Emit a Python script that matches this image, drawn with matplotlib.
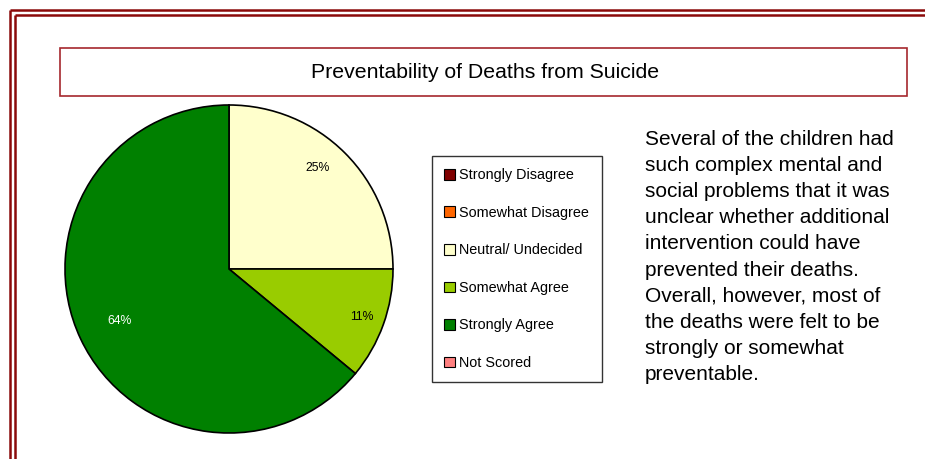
import numpy as np
import matplotlib
matplotlib.use("Agg")
import matplotlib.pyplot as plt
from matplotlib.patches import Patch, Rectangle
from matplotlib.lines import Line2D

plt.rcParams["font.family"] = ["Liberation Sans", "DejaVu Sans"]

# Data
categories = ["Strongly Disagree", "Somewhat Disagree", "Neutral/ Undecided",
              "Somewhat Agree", "Strongly Agree", "Not Scored"]
shares = [0, 0, 25, 11, 64, 0]
colors = ["#800000", "#FF6600", "#FFFFCC", "#99CC00", "#008000", "#FF8080"]
title = "Preventability of Deaths from Suicide"
note_lines = ["Several of the children had", "such complex mental and",
              "social problems that it was", "unclear whether additional",
              "intervention could have", "prevented their deaths.",
              "Overall, however, most of", "the deaths were felt to be",
              "strongly or somewhat", "preventable."]

W, H = 925, 459
fig = plt.figure(figsize=(W / 100, H / 100), dpi=100)
fig.patch.set_facecolor("white")


def fx(px):
    return px / W


def fy(py):
    return 1 - py / H


# Double border along top and left edges
border = "#8B0A0A"
for off in (9.5, 14.5):
    fig.add_artist(Line2D([fx(off), 1], [fy(off), fy(off)], color=border,
                          lw=1.8, solid_capstyle="butt"))
    fig.add_artist(Line2D([fx(off), fx(off)], [fy(off), 0], color=border,
                          lw=1.8, solid_capstyle="butt"))

# Title box
fig.add_artist(Rectangle((fx(60), fy(96)), fx(907) - fx(60), fy(48) - fy(96),
                         transform=fig.transFigure, fill=False,
                         edgecolor="#A5282D", lw=1.2))
fig.text(fx(485), fy(72), title, ha="center", va="center", fontsize=15.3)

# Pie
ax = fig.add_axes([fx(65), fy(433), fx(393) - fx(65), fy(105) - fy(433)])
vals = [v for v in shares if v > 0]
cols = [c for v, c in zip(shares, colors) if v > 0]
label_radius = [0.82, 0.86, 0.74]
label_shift = [4, 0, 0]  # extra degrees toward the top for the first label
wedges, _ = ax.pie(
    vals, colors=cols, startangle=90, counterclock=False,
    wedgeprops=dict(edgecolor="black", linewidth=1.2))
total = sum(vals)
for w, v, c, r, s in zip(wedges, vals, cols, label_radius, label_shift):
    ang = np.deg2rad((w.theta1 + w.theta2) / 2 + s)
    ax.text(r * np.cos(ang), r * np.sin(ang), f"{100 * v / total:.0f}%",
            ha="center", va="center", fontsize=8.8,
            color="white" if c == "#008000" else "black")
ax.set_xlim(-1.0, 1.0)
ax.set_ylim(-1.0, 1.0)
ax.set_aspect("equal")
ax.axis("off")

# Legend
handles = [Patch(facecolor=c, edgecolor="black", lw=0.8) for c in colors]
leg = fig.legend(handles, categories, loc="upper left",
                 bbox_to_anchor=(fx(432), fy(156)), bbox_transform=fig.transFigure,
                 fontsize=10.4, frameon=True, fancybox=False, borderpad=0.85,
                 labelspacing=1.63, handlelength=0.75, handleheight=0.75,
                 handletextpad=0.3, borderaxespad=0)
leg.get_frame().set_edgecolor("black")
leg.get_frame().set_linewidth(1.0)

# Explanatory note, one line per row
for i, line in enumerate(note_lines):
    fig.text(fx(645), fy(145 + 26.1 * i), line, ha="left", va="baseline",
             fontsize=15)

fig.savefig("out.png", dpi=100)
